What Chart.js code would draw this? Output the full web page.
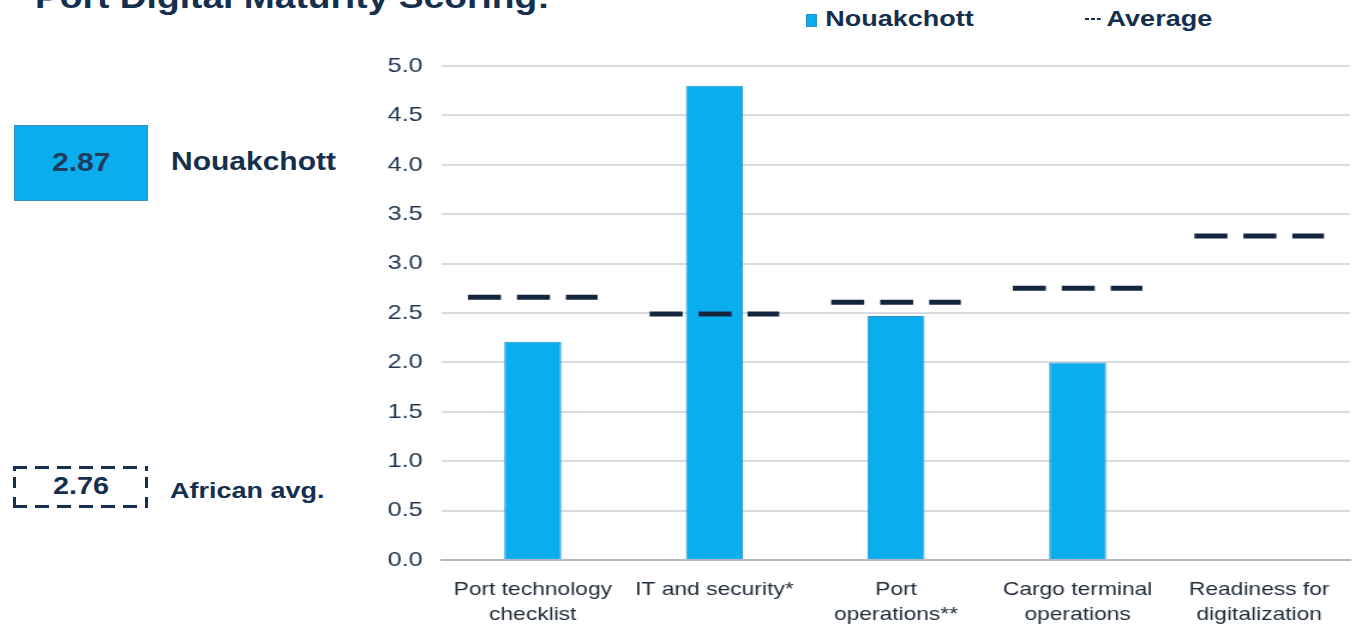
<!DOCTYPE html>
<html>
<head>
<meta charset="utf-8">
<script src="https://cdn.jsdelivr.net/npm/chart.js@4"></script>
<style>
  html, body { margin: 0; padding: 0; background: #fff; }
  body { width: 1362px; height: 626px; position: relative; overflow: hidden;
         font-family: 'Liberation Sans', Arial, sans-serif; color: #14304e; }
  /* todo el gráfico va ensanchado horizontalmente 1.2x */
  #wrap { position: absolute; left: 0; top: 0; width: 1135px; height: 626px;
          transform: scaleX(1.2); transform-origin: 0 0; }
  .wide { position: absolute; transform: scaleX(1.2); transform-origin: 0 0; white-space: nowrap; font-weight: bold; }
  .title { left: 35px; top: -20px; font-size: 31px; }
  .legend { top: 6px; font-size: 22.5px; }
  .legend .sw { display: inline-block; width: 9px; height: 13px; background: #0aaeef;
                border: 1px solid #2b8fc4; box-sizing: border-box; margin-right: 7px; vertical-align: -1px; }
  .legend .dash { display: inline-block; width: 13px; height: 2px; margin-right: 5px; vertical-align: 6px;
                  background: repeating-linear-gradient(90deg, #14304e 0 3px, transparent 3px 5px); }
  .box { position: absolute; box-sizing: border-box; }
  .box.solid { left: 14px; top: 125px; width: 134px; height: 76px; background: #0aaeef; border: 1px solid #3d8fbf; }
  .box.dashed { left: 13px; top: 466px; width: 135px; height: 42px;
    background:
      repeating-linear-gradient(90deg, #14304e 0 14px, transparent 14px 22px) left top / 100% 3px no-repeat,
      repeating-linear-gradient(90deg, #14304e 0 14px, transparent 14px 22px) left bottom / 100% 3px no-repeat,
      repeating-linear-gradient(180deg, #14304e 0 5px, transparent 5px 11px, #14304e 11px 22px, transparent 22px 31px, #14304e 31px 42px) left top / 3px 100% no-repeat,
      repeating-linear-gradient(180deg, #14304e 0 5px, transparent 5px 11px, #14304e 11px 22px, transparent 22px 31px, #14304e 31px 42px) right top / 3px 100% no-repeat; }
</style>
</head>
<body>
<div class="wide title">Port Digital Maturity Scoring:</div>
<div class="wide legend" style="left:806px"><span class="sw"></span>Nouakchott</div>
<div class="wide legend" style="left:1085px"><span class="dash"></span>Average</div>

<div class="box solid"></div>
<div class="wide" style="left:52px; top:148px; font-size:25px; color:#1d3c5c">2.87</div>
<div class="wide" style="left:171px; top:147px; font-size:25px">Nouakchott</div>
<div class="box dashed"></div>
<div class="wide" style="left:53px; top:472px; font-size:24px">2.76</div>
<div class="wide" style="left:170px; top:478px; font-size:22.5px">African avg.</div>

<div id="wrap"><canvas id="scoreChart"></canvas></div>

<script>
// Categorías y puntajes
const categorias = [
    ['Port technology', 'checklist'],
    'IT and security*',
    ['Port', 'operations**'],
    ['Cargo terminal', 'operations'],
    ['Readiness for', 'digitalization']
];
const puntajeNouakchott = [2.21, 4.8, 2.47, 2.0, null];
const puntajePromedio = [2.66, 2.49, 2.61, 2.75, 3.28];
const ticksY = [0, 0.5, 1, 1.5, 2, 2.5, 3, 3.5, 4, 4.5, 5];

// Promedio: segmento discontinuo centrado en cada categoría
const promedioPlugin = {
    id: 'promedioDashes',
    afterDatasetsDraw(chart) {
        const meta = chart.getDatasetMeta(1);
        const ctx = chart.ctx;
        ctx.save();
        ctx.strokeStyle = '#14263f';
        ctx.lineWidth = 5;
        ctx.setLineDash([27.5, 13.3]);
        meta.data.forEach(pt => {
            ctx.beginPath();
            ctx.moveTo(pt.x - 54, pt.y);
            ctx.lineTo(pt.x + 54, pt.y);
            ctx.stroke();
        });
        ctx.restore();
    }
};

const fuente = "'Liberation Sans', Arial, sans-serif";

new Chart(document.getElementById('scoreChart'), {
    type: 'bar',
    data: {
        labels: categorias,
        datasets: [{
            label: 'Nouakchott',
            data: puntajeNouakchott,
            backgroundColor: '#0aaeef',
            borderColor: '#2b95cc',
            borderWidth: 1,
            categoryPercentage: 1,
            barPercentage: 0.314,
            order: 2
        }, {
            type: 'line',
            label: 'Average',
            data: puntajePromedio,
            showLine: false,
            pointRadius: 0,
            order: 1
        }]
    },
    options: {
        responsive: true,
        maintainAspectRatio: false,
        animation: false,
        layout: { padding: { left: 300, top: 66, right: 10, bottom: 0 } },
        plugins: {
            legend: { display: false },
            tooltip: { enabled: false }
        },
        scales: {
            y: {
                min: 0,
                max: 5,
                afterFit: s => { s.width = 68.3; },
                afterBuildTicks: s => { s.ticks = ticksY.map(v => ({ value: v })); },
                ticks: {
                    padding: 16,
                    color: '#1f3550',
                    font: { size: 21, family: fuente },
                    callback: v => v.toFixed(1)
                },
                grid: { color: '#d9dde2', lineWidth: 2, drawTicks: false },
                border: { display: false }
            },
            x: {
                afterFit: s => { s.height = 66; },
                ticks: {
                    padding: 9,
                    maxRotation: 0,
                    autoSkip: false,
                    color: '#1e2a38',
                    font: { size: 19, family: fuente, lineHeight: '25px' }
                },
                grid: { display: false },
                border: { color: '#b5b9be', width: 2 }
            }
        }
    },
    plugins: [promedioPlugin]
});
</script>
</body>
</html>
